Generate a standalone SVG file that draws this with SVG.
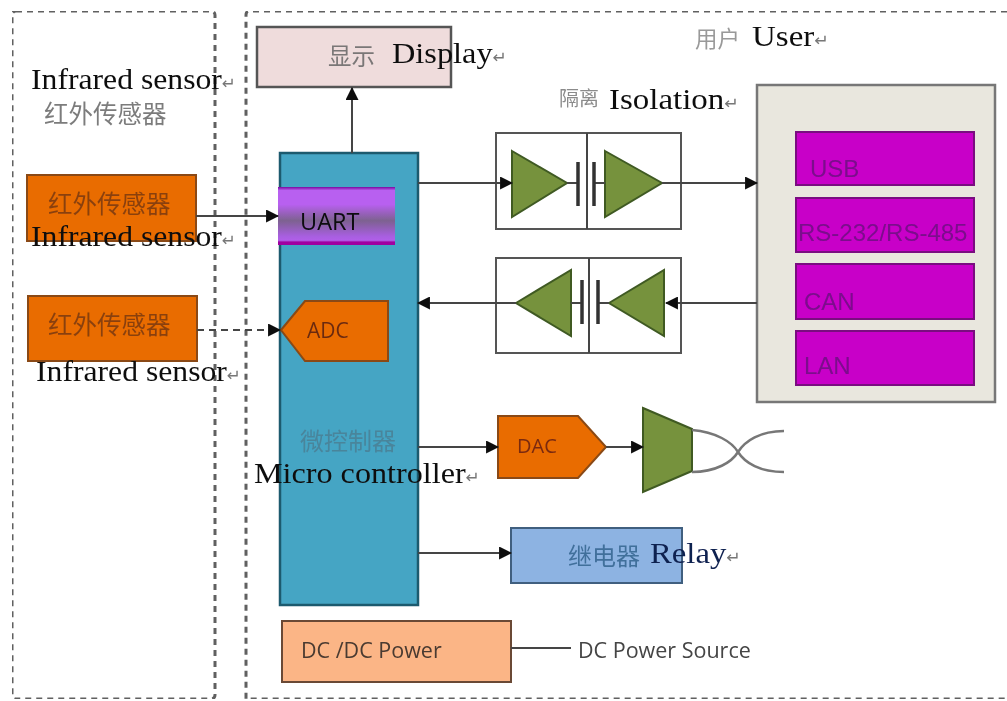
<svg xmlns="http://www.w3.org/2000/svg" width="1007" height="701" viewBox="0 0 1007 701">
<style>
text{font-family:"Noto Sans","Noto Sans CJK SC",sans-serif}
.en{font-family:"Liberation Serif","Noto Sans CJK SC",serif;font-size:30px;fill:#111}
.ret{font-family:"DejaVu Sans",sans-serif;font-size:16px;fill:#777}
.cn{font-family:"Noto Sans CJK SC",sans-serif;fill:#666;opacity:.85}
.sans{font-family:"Open Sans","Noto Sans CJK SC",sans-serif}
.arial{font-family:"Liberation Sans",sans-serif;font-size:24px;fill:#7b0a8c}
.zone{fill:none;stroke:#606060;stroke-width:3;stroke-dasharray:6 5}
.line{fill:none;stroke:#444;stroke-width:2}
.arrow{marker-end:url(#ah)}
.box{stroke:#555;stroke-width:2.5}
.orange{fill:#e96c00;stroke:#8a4a14;stroke-width:2}
.green{fill:#76923c;stroke:#3f5a24;stroke-width:2}
.iso{fill:#fff;stroke:#555;stroke-width:2}
.cap{stroke:#333;stroke-width:3.5;fill:none}
.mag{fill:#c800c8;stroke:#7a0a80;stroke-width:2}
</style>
<defs>
<marker id="ah" viewBox="0 0 12 12" refX="11" refY="6" markerWidth="13" markerHeight="13" markerUnits="userSpaceOnUse" orient="auto"><path d="M0 0L12 6L0 12Z" fill="#111"/></marker>
<linearGradient id="uart" x1="0" y1="0" x2="0" y2="1">
<stop offset="0" stop-color="#7a0aa0"/><stop offset=".06" stop-color="#b860f0"/><stop offset=".3" stop-color="#b860f0"/><stop offset=".58" stop-color="#7d6290"/><stop offset=".85" stop-color="#a85ee0"/><stop offset=".92" stop-color="#b060e8"/><stop offset=".95" stop-color="#a000a0"/><stop offset="1" stop-color="#a000a0"/>
</linearGradient>
<filter id="soft" x="0" y="0" width="100%" height="100%"><feGaussianBlur stdDeviation="0.45"/></filter>
</defs>
<rect width="1007" height="701" fill="#fff"/>
<g filter="url(#soft)">
<g id="zones">
<rect class="zone" x="12" y="11" width="203" height="688" rx="4"/>
<path class="zone" d="M1007 11H250Q246 11 246 15V699H1007"/>
</g>
<g id="mcu"><rect x="280" y="153" width="138" height="452" fill="#45a5c4" stroke="#1f5a6e" stroke-width="2.5"/></g>
<g id="display"><rect x="257" y="27" width="194" height="60" fill="#efdcdc" class="box"/></g>
<g id="uart-node"><rect x="278" y="187" width="117" height="58" fill="url(#uart)"/><text x="300" y="230" class="sans" font-size="23.5" fill="#0a0a10">UART</text></g>
<g id="adc"><path class="orange" d="M281 330L305 301H388V361H305Z"/><text x="307" y="338" class="sans" font-size="21" fill="#6b2a10">ADC</text></g>
<g id="sensor1"><rect class="orange" x="27" y="175" width="169" height="66"/><text x="48" y="213" class="cn" font-size="24.5" style="fill:#7a3a10">红外传感器</text></g>
<g id="sensor2"><rect class="orange" x="28" y="296" width="169" height="65"/><text x="48" y="334" class="cn" font-size="24.5" style="fill:#7a3a10">红外传感器</text></g>
<g id="isolation1">
<rect class="iso" x="496" y="133" width="185" height="96"/><path class="line" d="M587 133V229"/>
<path class="green" d="M512 151L567 183L512 217Z"/><path class="green" d="M605 151L662 183L605 217Z"/>
<path class="line" d="M567 183H578M594 183H605"/><path class="cap" d="M578 162V206M594 162V206"/>
</g>
<g id="isolation2">
<rect class="iso" x="496" y="258" width="185" height="95"/><path class="line" d="M589 258V353"/>
<path class="green" d="M516 303L571 270V336Z"/><path class="green" d="M609 303L664 270V336Z"/>
<path class="line" d="M571 303H582M598 303H609"/><path class="cap" d="M582 280V324M598 280V324"/>
</g>
<g id="user-box">
<rect x="757" y="85" width="238" height="317" fill="#e9e7de" stroke="#777" stroke-width="2.5"/>
<rect class="mag" x="796" y="132" width="178" height="53"/><text x="810" y="177" class="arial">USB</text>
<rect class="mag" x="796" y="198" width="178" height="54"/><text x="798" y="241" class="arial">RS-232/RS-485</text>
<rect class="mag" x="796" y="264" width="178" height="55"/><text x="804" y="310" class="arial">CAN</text>
<rect class="mag" x="796" y="331" width="178" height="54"/><text x="804" y="374" class="arial">LAN</text>
</g>
<g id="dac"><path class="orange" d="M498 416H578L606 447L578 478H498Z"/><text x="517" y="453" class="sans" font-size="20" fill="#7a2a10">DAC</text></g>
<g id="amplifier">
<path class="green" d="M643 408L692 429V471L643 492Z"/>
<path d="M692 430C716 432 732 442 738 452C745 441 760 431 784 431M692 472C716 472 732 462 738 452C745 463 760 472 784 472" fill="none" stroke="#777" stroke-width="2.5"/>
</g>
<g id="relay"><rect x="511" y="528" width="171" height="55" fill="#8db3e2" stroke="#3f5f7f" stroke-width="2"/><text x="568" y="565" class="cn" font-size="24" style="fill:#34648f">继电器</text></g>
<g id="dcdc"><rect x="282" y="621" width="229" height="61" fill="#fbb586" stroke="#6b4a35" stroke-width="2"/><text x="301" y="658" class="sans" font-size="21.5" fill="#4a3a30">DC /DC Power</text></g>
<g id="connectors">
<path class="line arrow" d="M196 216H278"/>
<path class="line arrow" d="M197 330H280" stroke-dasharray="7 5"/>
<path class="line arrow" d="M352 153V88"/>
<path class="line arrow" d="M418 183H512"/>
<path class="line arrow" d="M662 183H757"/>
<path class="line arrow" d="M757 303H666"/>
<path class="line arrow" d="M516 303H418"/>
<path class="line arrow" d="M418 447H498"/>
<path class="line arrow" d="M606 447H643"/>
<path class="line arrow" d="M418 553H511"/>
<path class="line" d="M511 648H571"/>
</g>
<g id="labels">
<text x="31" y="89" class="en" textLength="205" lengthAdjust="spacingAndGlyphs">Infrared sensor<tspan class="ret">↵</tspan></text>
<text x="44" y="123" class="cn" font-size="24.5">红外传感器</text>
<text x="31" y="246" class="en" textLength="205" lengthAdjust="spacingAndGlyphs">Infrared sensor<tspan class="ret">↵</tspan></text>
<text x="36" y="381" class="en" textLength="205" lengthAdjust="spacingAndGlyphs">Infrared sensor<tspan class="ret">↵</tspan></text>
<text x="328" y="65" class="cn" font-size="23.5">显示</text>
<text x="392" y="63" class="en" textLength="115" lengthAdjust="spacingAndGlyphs">Display<tspan class="ret">↵</tspan></text>
<text x="695" y="47" class="cn" font-size="22.5" style="fill:#888">用户</text>
<text x="752" y="46" class="en" textLength="77" lengthAdjust="spacingAndGlyphs">User<tspan class="ret">↵</tspan></text>
<text x="559" y="106" class="cn" font-size="20" style="fill:#777">隔离</text>
<text x="609" y="109" class="en" textLength="130" lengthAdjust="spacingAndGlyphs">Isolation<tspan class="ret">↵</tspan></text>
<text x="300" y="450" class="cn" font-size="24" style="fill:#4a7f95">微控制器</text>
<text x="254" y="483" class="en" textLength="226" lengthAdjust="spacingAndGlyphs">Micro controller<tspan class="ret">↵</tspan></text>
<text x="650" y="563" class="en" textLength="91" lengthAdjust="spacingAndGlyphs" style="fill:#102050">Relay<tspan class="ret">↵</tspan></text>
<text x="578" y="658" class="sans" font-size="21.5" fill="#444">DC Power Source</text>
</g>
</g>
</svg>
